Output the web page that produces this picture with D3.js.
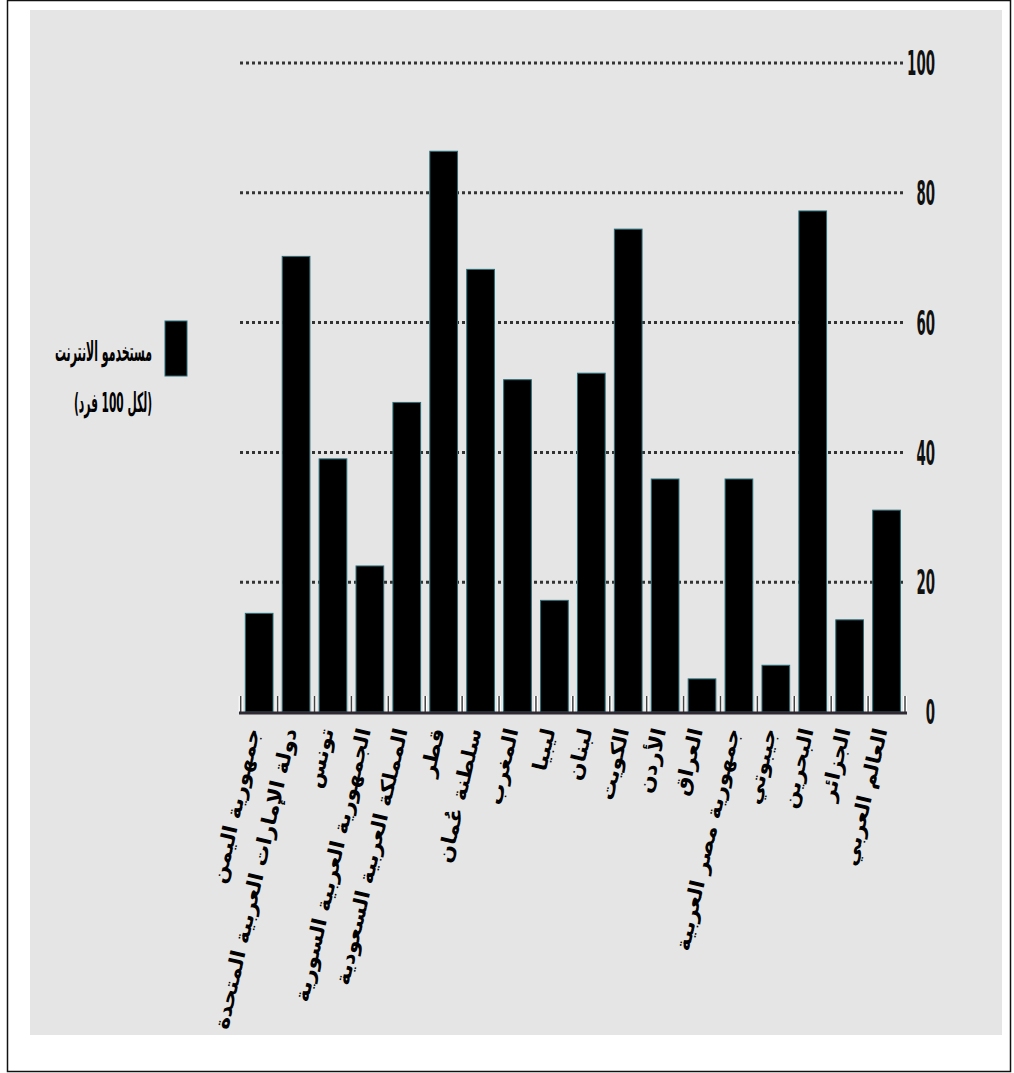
<!DOCTYPE html>
<html>
<head>
<meta charset="utf-8">
<script src="https://cdn.jsdelivr.net/npm/d3@7"></script>
<style>
body { margin: 0; background: #fff; }
</style>
</head>
<body>
<div id="chart"></div>
<script>
// بيانات: مستخدمو الانترنت لكل 100 فرد
const countries = ["جمهورية اليمن", "دولة الإمارات العربية المتحدة", "تونس",
	"الجمهورية العربية السورية", "المملكة العربية السعودية", "قطر", "سلطنة عُمان",
	"المغرب", "ليبيا", "لبنان", "الكويت", "الأردن", "العراق",
	"جمهورية مصر العربية", "جيبوتي", "البحرين", "الجزائر", "العالم العربي"];
const users = [15.2, 70.2, 39.0, 22.5, 47.7, 86.4, 68.2, 51.2, 17.2, 52.2,
	74.4, 35.9, 5.1, 35.9, 7.2, 77.2, 14.2, 31.1];
const yTicks = [0, 20, 40, 60, 80, 100];
const legendLines = ["مستخدمو الانترنت", "(لكل 100 فرد)"];

const W = 1014, H = 1073;
const svg = d3.select("#chart").append("svg")
	.attr("width", W)
	.attr("height", H);

// إطار وخلفية
svg.append("rect")
	.attr("x", 7.5).attr("y", 0.5)
	.attr("width", 1003).attr("height", 1071)
	.attr("fill", "#fff")
	.attr("stroke", "#111")
	.attr("stroke-width", 1.5);
svg.append("rect")
	.attr("x", 30).attr("y", 10)
	.attr("width", 972).attr("height", 1025)
	.attr("fill", "#e5e5e5");

const x = d3.scaleBand()
	.domain(countries)
	.range([240.7, 905])
	.paddingInner(0.25)
	.paddingOuter(0.125);
const y = d3.scaleLinear()
	.domain([0, 100])
	.range([712, 63]);

// خطوط الشبكة المنقطة
svg.append("g")
	.selectAll("line")
	.data(yTicks.filter(d => d > 0))
	.join("line")
		.attr("x1", 240)
		.attr("x2", 905)
		.attr("y1", d => y(d))
		.attr("y2", d => y(d))
		.attr("stroke", "#333")
		.attr("stroke-width", 3)
		.attr("stroke-dasharray", "3,3");

// تسميات المحور العمودي
svg.append("g")
	.selectAll("text")
	.data(yTicks)
	.join("text")
		.attr("x", 935)
		.attr("y", d => y(d))
		.attr("dy", "0.36em")
		.attr("text-anchor", "end")
		.attr("font-family", "'Liberation Sans Narrow', 'DejaVu Sans Condensed', sans-serif")
		.attr("font-weight", "bold")
		.attr("font-size", 34)
		.attr("fill", "#111")
		.attr("textLength", d => String(d).length * 9.3)
		.attr("lengthAdjust", "spacingAndGlyphs")
		.text(d => d);

// الأعمدة
svg.append("g")
	.selectAll("rect")
	.data(countries)
	.join("rect")
		.attr("x", d => x(d))
		.attr("y", (d, i) => y(users[i]))
		.attr("width", x.bandwidth())
		.attr("height", (d, i) => y(0) - y(users[i]))
		.attr("fill", "#000")
		.attr("stroke", "#2a6d78")
		.attr("stroke-width", 1);

// المحور الأفقي
const gap = (x.step() - x.bandwidth()) / 2;
const bounds = countries.map(d => x(d) - gap).concat([x(countries[countries.length - 1]) + x.bandwidth() + gap]);
const ax = svg.append("g");
ax.selectAll("line.halo")
	.data(bounds)
	.join("line")
		.attr("class", "halo")
		.attr("x1", d => d).attr("x2", d => d)
		.attr("y1", 696).attr("y2", 712)
		.attr("stroke", "#fff")
		.attr("stroke-width", 4);
ax.selectAll("line.tk")
	.data(bounds)
	.join("line")
		.attr("class", "tk")
		.attr("x1", d => d).attr("x2", d => d)
		.attr("y1", 696).attr("y2", 712)
		.attr("stroke", "#444")
		.attr("stroke-width", 1.5);
ax.append("line")
	.attr("x1", 239).attr("x2", 907)
	.attr("y1", 713).attr("y2", 713)
	.attr("stroke", "#2f2a33")
	.attr("stroke-width", 3);

// تسميات الدول المائلة
svg.append("g")
	.selectAll("text")
	.data(countries)
	.join("text")
		.attr("transform", d => `translate(${x(d) + x.bandwidth() / 2 + 1},730) rotate(-77) scale(1.09,1)`)
		.attr("text-anchor", "end")
		.attr("font-family", "'DejaVu Sans', sans-serif")
		.attr("font-weight", "bold")
		.attr("font-size", 20)
		.attr("fill", "#000")
		.text(d => d);

// وسيلة الإيضاح
svg.append("rect")
	.attr("x", 165).attr("y", 321)
	.attr("width", 22).attr("height", 55)
	.attr("fill", "#000")
	.attr("stroke", "#2a6d78")
	.attr("stroke-width", 1);
svg.append("g")
	.selectAll("text")
	.data(legendLines)
	.join("text")
		.attr("x", 152)
		.attr("y", (d, i) => 361 + i * 51)
		.attr("direction", "rtl")
		.attr("text-anchor", "start")
		.attr("font-family", "'DejaVu Sans', sans-serif")
		.attr("font-weight", "bold")
		.attr("font-size", 27)
		.attr("fill", "#000")
		.attr("textLength", (d, i) => i === 0 ? 97 : 78)
		.attr("lengthAdjust", "spacingAndGlyphs")
		.text(d => d);
</script>
</body>
</html>
